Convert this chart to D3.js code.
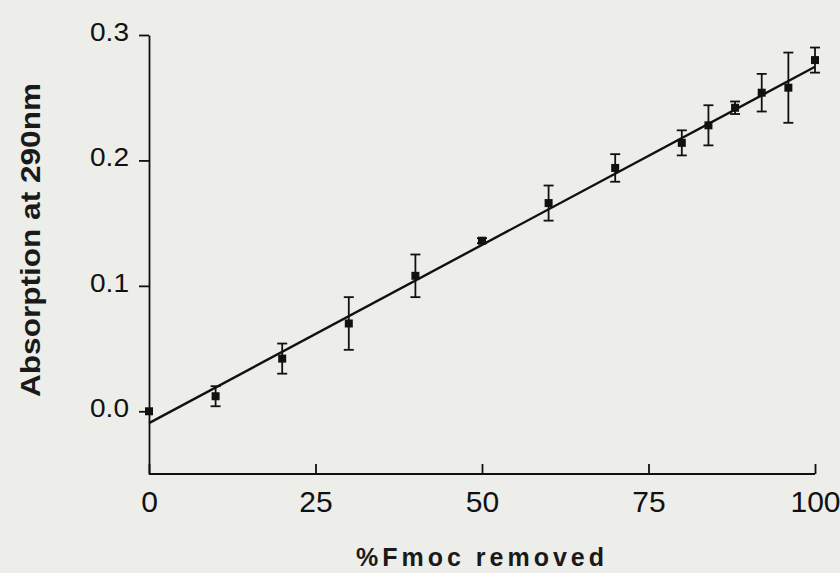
<!DOCTYPE html>
<html>
<head>
<meta charset="utf-8">
<script src="https://cdn.jsdelivr.net/npm/d3@7"></script>
<style>
  body { margin: 0; background: #ededea; }
  svg { display: block; font-family: "Liberation Sans", Arial, sans-serif; }
</style>
</head>
<body>
<div id="chart"></div>
<script>
// % Fmoc removed vs absorption at 290nm (mean with error)
const pctRemoved = [0, 10, 20, 30, 40, 50, 60, 70, 80, 84, 88, 92, 96, 100];
const absorption = [0.000, 0.012, 0.042, 0.070, 0.108, 0.136, 0.166, 0.194, 0.214, 0.228, 0.242, 0.254, 0.258, 0.280];
const errors     = [0.000, 0.008, 0.012, 0.021, 0.017, 0.002, 0.014, 0.011, 0.010, 0.016, 0.005, 0.015, 0.028, 0.010];
// linear fit line end points
const fitX = [0, 100];
const fitY = [-0.0094, 0.2747];
const xTicks = [0, 25, 50, 75, 100];
const yTicks = [0.0, 0.1, 0.2, 0.3];

const width = 840, height = 573;
const margin = {top: 35, right: 25, bottom: 99, left: 149};
const h = height - margin.top - margin.bottom;

const svg = d3.select('#chart').append('svg')
    .attr('width', width)
    .attr('height', height);

svg.append('rect')
    .attr('width', width)
    .attr('height', height)
    .attr('fill', '#edede9');

const chart = svg.append('g')
    .attr('transform', `translate(${margin.left},${margin.top})`);

const xScale = d3.scaleLinear().domain([0, 100]).range([0, 666]);
const yScale = d3.scaleLinear().domain([-0.05, 0.3]).range([h, 0]);

const xAxis = d3.axisBottom(xScale).tickValues(xTicks).tickSize(10).tickSizeOuter(0);
const yAxis = d3.axisLeft(yScale).tickValues(yTicks).tickSize(10).tickSizeOuter(0).tickPadding(10)
    .tickFormat(d3.format('.1f'));

const xAxisG = chart.append('g')
    .attr('transform', `translate(0,${h})`)
    .call(xAxis);
xAxisG.select('.domain').attr('d', `M0,0H${xScale(100)}`);
// ticks point up into the plot
xAxisG.selectAll('.tick line').attr('y2', -10);
xAxisG.selectAll('.tick text')
    .attr('y', 38)
    .attr('dy', null)
    .style('font-size', '30px');

const yAxisG = chart.append('g').call(yAxis);
yAxisG.selectAll('.tick text')
    .style('font-size', '26px')
    .attr('dy', '0.2em')
    .attr('textLength', 39)
    .attr('lengthAdjust', 'spacingAndGlyphs');

chart.selectAll('.domain, .tick line')
    .attr('stroke', '#111')
    .attr('stroke-width', 1.8);
chart.selectAll('.tick text').attr('fill', '#111');

// axis titles
svg.append('text')
    .attr('x', margin.left + xScale(50))
    .attr('y', 566)
    .attr('text-anchor', 'middle')
    .style('font-size', '25px')
    .style('font-weight', 'bold')
    .style('letter-spacing', '4px')
    .attr('fill', '#1a1a1a')
    .text('%Fmoc removed');

svg.append('text')
    .attr('transform', 'translate(40,240) rotate(-90)')
    .attr('text-anchor', 'middle')
    .style('font-size', '28px')
    .style('font-weight', 'bold')
    .attr('textLength', 314)
    .attr('lengthAdjust', 'spacingAndGlyphs')
    .attr('fill', '#1a1a1a')
    .text('Absorption at 290nm');

// fit line
chart.append('line')
    .attr('x1', xScale(fitX[0])).attr('y1', yScale(fitY[0]))
    .attr('x2', xScale(fitX[1])).attr('y2', yScale(fitY[1]))
    .attr('stroke', '#111')
    .attr('stroke-width', 2.4);

const data = pctRemoved.map((x, i) => ({x: x, y: absorption[i], e: errors[i]}));

// error bars
const eb = chart.selectAll('.err')
  .data(data.filter(d => d.e > 0))
  .join('g')
    .attr('class', 'err')
    .attr('stroke', '#111')
    .attr('stroke-width', 1.8);
eb.append('line')
    .attr('x1', d => xScale(d.x)).attr('x2', d => xScale(d.x))
    .attr('y1', d => yScale(d.y + d.e)).attr('y2', d => yScale(d.y - d.e));
eb.append('line')
    .attr('x1', d => xScale(d.x) - 5).attr('x2', d => xScale(d.x) + 5)
    .attr('y1', d => yScale(d.y + d.e)).attr('y2', d => yScale(d.y + d.e));
eb.append('line')
    .attr('x1', d => xScale(d.x) - 5).attr('x2', d => xScale(d.x) + 5)
    .attr('y1', d => yScale(d.y - d.e)).attr('y2', d => yScale(d.y - d.e));

// square markers
chart.selectAll('.pt')
  .data(data)
  .join('rect')
    .attr('class', 'pt')
    .attr('x', d => xScale(d.x) - 4)
    .attr('y', d => yScale(d.y) - 4)
    .attr('width', 8)
    .attr('height', 8)
    .attr('fill', '#111');
</script>
</body>
</html>
